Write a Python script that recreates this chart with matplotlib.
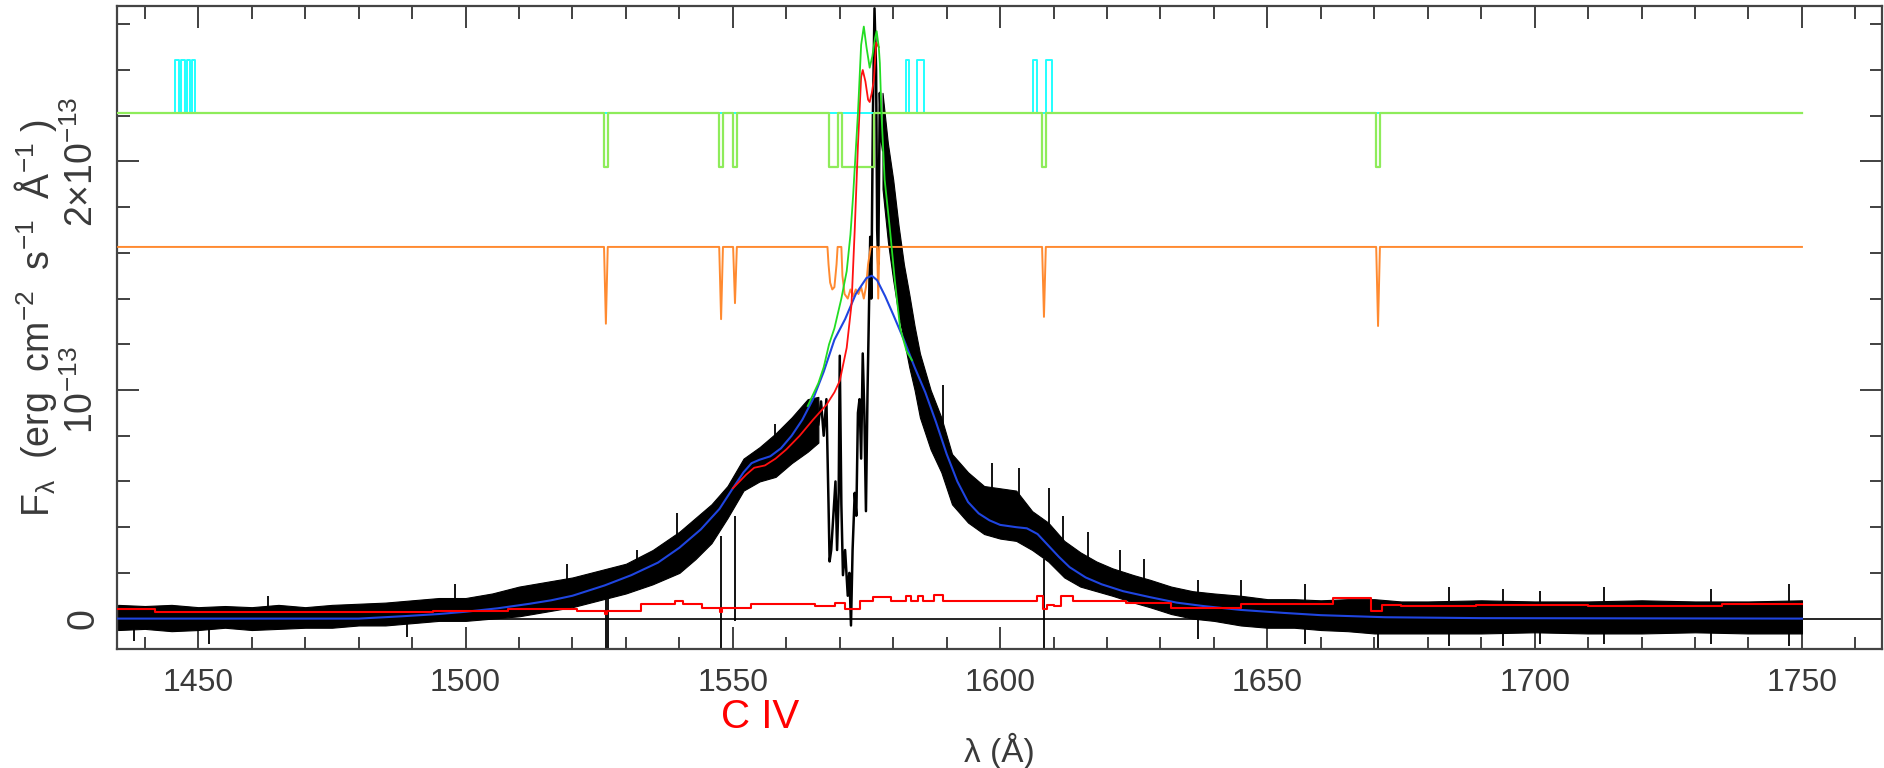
import numpy as np
import matplotlib
matplotlib.use('Agg')
import matplotlib.pyplot as plt
from matplotlib.ticker import MultipleLocator, FixedLocator

# flux in units of 1e-13 erg cm-2 s-1 A-1, wavelength in A

# observed spectrum, noisy wings drawn as a band (upper / lower envelope)
band_l_wl = [1435, 1440, 1445, 1450, 1455, 1460, 1465, 1470, 1475, 1480, 1485, 1490, 1495, 1500,
             1505, 1510, 1515, 1520, 1525, 1530, 1535, 1540, 1543, 1546, 1549, 1552, 1555, 1558,
             1561, 1564, 1566]
band_l_hi = [0.06, 0.055, 0.06, 0.05, 0.055, 0.05, 0.06, 0.05, 0.06, 0.065, 0.07, 0.08, 0.09, 0.09,
             0.11, 0.14, 0.16, 0.18, 0.21, 0.24, 0.30, 0.38, 0.44, 0.50, 0.58, 0.70, 0.75, 0.81,
             0.88, 0.96, 0.97]
band_l_lo = [-0.05, -0.045, -0.055, -0.05, -0.04, -0.05, -0.045, -0.04, -0.04, -0.03, -0.03, -0.02,
             -0.01, -0.01, 0.00, 0.01, 0.03, 0.05, 0.08, 0.11, 0.15, 0.20, 0.26, 0.33, 0.44, 0.56,
             0.60, 0.62, 0.68, 0.73, 0.77]

band_r_wl = [1578, 1579, 1580, 1581, 1582, 1583, 1584, 1585, 1587, 1589, 1591, 1594, 1597, 1600,
             1603, 1606, 1609, 1612, 1615, 1618, 1621, 1625, 1628, 1632, 1636, 1640, 1645, 1650,
             1655, 1660, 1665, 1670, 1675, 1680, 1690, 1700, 1710, 1720, 1730, 1740, 1750]
band_r_hi = [2.30, 2.08, 1.92, 1.72, 1.55, 1.42, 1.28, 1.16, 1.00, 0.88, 0.72, 0.64, 0.58, 0.57,
             0.56, 0.47, 0.42, 0.34, 0.29, 0.25, 0.22, 0.19, 0.17, 0.14, 0.12, 0.11, 0.10, 0.085,
             0.085, 0.08, 0.085, 0.085, 0.075, 0.075, 0.08, 0.075, 0.075, 0.08, 0.075, 0.075, 0.08]
band_r_lo = [1.88, 1.65, 1.48, 1.33, 1.22, 1.10, 1.00, 0.88, 0.74, 0.64, 0.50, 0.42, 0.37, 0.35,
             0.34, 0.30, 0.25, 0.18, 0.14, 0.12, 0.10, 0.07, 0.05, 0.02, 0.00, -0.01, -0.03, -0.04,
             -0.04, -0.05, -0.055, -0.065, -0.065, -0.065, -0.065, -0.06, -0.065, -0.065, -0.06,
             -0.065, -0.065]

# C IV core of the observed spectrum
core_wl = [1566.0, 1566.5, 1567.0, 1567.5, 1567.9, 1568.1, 1568.4, 1568.8, 1569.2, 1569.5, 1569.8,
           1570.0, 1570.3, 1570.6, 1571.0, 1571.5, 1571.8, 1572.1, 1572.4, 1572.8, 1573.1, 1573.4,
           1573.7, 1574.0, 1574.3, 1574.6, 1574.9, 1575.2, 1575.4, 1575.7, 1575.9, 1576.2, 1576.5,
           1576.8, 1577.0, 1577.2, 1577.5, 1577.8, 1578.1]
core_flux = [0.85, 0.95, 0.80, 0.96, 0.50, 0.25, 0.30, 0.45, 0.60, 0.30, 0.55,
             1.15, 0.50, 0.19, 0.30, 0.10, 0.20, -0.03, 0.30, 0.55, 0.45, 0.90,
             0.96, 0.70, 1.16, 0.90, 0.47, 1.00, 1.26, 1.67, 1.40, 2.20, 2.67,
             2.40, 1.70, 1.55, 2.30, 2.10, 2.05]

# narrow absorption lines and the strongest noise spikes
abs_wl = [1526.3, 1526.6, 1547.8, 1550.4, 1608.2, 1670.6]
abs_top = [0.10, 0.10, 0.36, 0.45, 0.26, -0.04]
abs_bottom = [-0.13, -0.13, -0.13, -0.01, -0.13, -0.13]
spike_wl = [1438, 1452, 1463, 1489, 1498, 1519, 1532, 1539.5, 1557.9, 1589.3, 1598.5, 1603.5,
            1609.1, 1611.8, 1616.5, 1622.5, 1627, 1637, 1645, 1657, 1684, 1694, 1701, 1713,
            1733, 1747.5]
spike_lo = [-0.10, -0.11, 0.05, -0.08, 0.08, 0.15, 0.20, 0.30, 0.75, 0.85, 0.55, 0.50,
            0.40, 0.30, 0.25, 0.20, 0.15, -0.09, 0.08, -0.11, -0.12, -0.12, -0.11, -0.11,
            -0.11, -0.12]
spike_hi = [-0.04, -0.04, 0.10, -0.02, 0.15, 0.24, 0.30, 0.46, 0.85, 1.02, 0.68, 0.66,
            0.57, 0.45, 0.38, 0.30, 0.26, 0.17, 0.17, 0.15, 0.14, 0.13, 0.12, 0.14,
            0.13, 0.15]

# smooth continuum + broad line model (blue)
blue_wl = [1435, 1480, 1488, 1495, 1500, 1506, 1512, 1516, 1520, 1526, 1531, 1536, 1540, 1544,
           1547.5, 1550, 1552, 1553.5, 1555, 1557, 1559, 1561, 1563, 1565, 1567, 1569, 1571, 1573,
           1575, 1576, 1577, 1578.5, 1580, 1582, 1584, 1586, 1588, 1590, 1592, 1594, 1596, 1598,
           1600, 1603, 1605, 1607, 1609, 1611, 1613, 1616, 1619, 1623, 1628, 1633, 1638, 1645,
           1653, 1660, 1672, 1690, 1750]
blue_flux = [0.0, 0.0, 0.01, 0.02, 0.03, 0.045, 0.065, 0.08, 0.10, 0.145, 0.19, 0.245, 0.31, 0.39,
             0.48, 0.57, 0.64, 0.68, 0.695, 0.71, 0.745, 0.80, 0.87, 0.96, 1.08, 1.22, 1.31, 1.42,
             1.49, 1.50, 1.48, 1.41, 1.33, 1.22, 1.10, 0.99, 0.86, 0.72, 0.60, 0.51, 0.46, 0.43,
             0.41, 0.40, 0.395, 0.37, 0.32, 0.27, 0.225, 0.18, 0.15, 0.12, 0.094, 0.07, 0.055, 0.038,
             0.025, 0.015, 0.006, 0.002, 0.0]

# full model with narrow component (green) and absorbed model (red)
green_wl = [1564, 1566, 1567, 1568, 1569, 1570.3, 1571.3, 1572.0, 1572.5, 1573.0, 1573.4, 1574.0,
            1574.5, 1575.0, 1575.6, 1576.1, 1576.6, 1576.9, 1577.3, 1577.5, 1577.8, 1578.4, 1579.4,
            1580.3, 1581.3, 1582.5, 1583.5]
green_flux = [0.93, 1.03, 1.10, 1.20, 1.27, 1.40, 1.52, 1.68, 1.85, 2.05, 2.21, 2.51,
              2.59, 2.50, 2.41, 2.46, 2.54, 2.57, 2.50, 2.43, 2.21, 1.92, 1.70,
              1.48, 1.27, 1.17, 1.13]
red_wl = [1550, 1552.5, 1554, 1556, 1558, 1560, 1562.5, 1565, 1567.5, 1569, 1570, 1571.3, 1572.2,
          1572.8, 1573.4, 1574.0, 1574.3, 1574.8, 1575.3, 1575.6, 1576.0, 1576.4, 1576.8, 1577.3]
red_flux = [0.57, 0.63, 0.66, 0.67, 0.70, 0.74, 0.80, 0.87, 0.935, 0.99, 1.04, 1.185, 1.375,
            1.70, 2.07, 2.37, 2.40, 2.35, 2.27, 2.26, 2.30, 2.36, 2.52, 2.50]

# error spectrum (red, near zero)
err_wl = [1435, 1441.5, 1442.2, 1460, 1487.7, 1500, 1515.8, 1525.8, 1526.3, 1526.8, 1538.8, 1539.4,
          1540.5, 1541.0, 1547.5, 1547.8, 1548.1, 1558.7, 1562.5, 1568.1, 1570, 1572.1, 1575.6,
          1576.9, 1582.4, 1582.5, 1583.2, 1583.3, 1584.6, 1584.7, 1585.5, 1585.6, 1587.5, 1587.6,
          1589.3, 1589.4, 1596.2, 1606, 1607.8, 1608.4, 1609.0, 1611.0, 1611.8, 1615.4, 1631.7,
          1632.3, 1657.9, 1666.7, 1667.9, 1670.7, 1672.0, 1677.9, 1700, 1720, 1750]
err_flux = [0.043, 0.043, 0.028, 0.030, 0.030, 0.033, 0.040, 0.033, 0.018, 0.033, 0.062, 0.075,
            0.075, 0.062, 0.047, 0.030, 0.047, 0.062, 0.062, 0.057, 0.070, 0.040, 0.076,
            0.094, 0.076, 0.100, 0.100, 0.076, 0.076, 0.100, 0.100, 0.076, 0.076, 0.105,
            0.105, 0.076, 0.076, 0.076, 0.100, 0.040, 0.060, 0.054, 0.098, 0.076, 0.070,
            0.047, 0.062, 0.090, 0.090, 0.032, 0.060, 0.054, 0.058, 0.056, 0.062]

# absorption transmission (orange, offset) and masks (green, cyan)
orange_base = 1.626
orange_wl = [1567.7, 1567.9, 1568.2, 1568.6, 1569.0, 1569.4, 1569.6, 1570.3, 1570.5, 1570.9, 1571.5,
             1572.0, 1572.5, 1573.0, 1573.5, 1574.0, 1574.5, 1574.9, 1575.3, 1575.8, 1577.0, 1577.2,
             1577.4]
orange_flux = [1.626, 1.55, 1.47, 1.44, 1.45, 1.55, 1.626, 1.626, 1.50, 1.42, 1.40,
               1.44, 1.41, 1.44, 1.42, 1.45, 1.40, 1.45, 1.55, 1.626, 1.626, 1.40, 1.626]
orange_dip_wl = [1526.25, 1547.8, 1550.4, 1608.2, 1670.7]
orange_dip_min = [1.29, 1.31, 1.38, 1.32, 1.28]

mask_base = 2.21
green_mask_level = 1.977
green_mask = [(1525.9, 1526.7), (1547.4, 1548.2), (1550.05, 1550.8), (1567.9, 1569.6),
              (1570.4, 1576.4), (1607.9, 1608.5), (1670.4, 1671.0)]
cyan_level = 2.445
cyan_mask = [(1445.6, 1446.45), (1446.7, 1447.5), (1447.8, 1448.45), (1448.75, 1449.4),
             (1582.3, 1583.0), (1584.5, 1585.8), (1606.2, 1606.9), (1608.5, 1609.7)]

x_start, x_end = 1435, 1750


def step_line(intervals, base, level):
    xs = [x_start]
    ys = [base]
    for a, b in intervals:
        xs += [a, a, b, b]
        ys += [base, level, level, base]
    xs.append(x_end)
    ys.append(base)
    return xs, ys


plt.rcParams['font.family'] = ['Liberation Sans', 'DejaVu Sans']
plt.rcParams['mathtext.fontset'] = 'custom'
plt.rcParams['mathtext.rm'] = 'Liberation Sans'
plt.rcParams['mathtext.it'] = 'Liberation Sans'

fig = plt.figure(figsize=(18.84, 7.68), dpi=100)
ax_left, ax_right = 116.5 / 1884, 1881.6 / 1884
ax = fig.add_axes([ax_left, 1 - 649 / 768, ax_right - ax_left, 643.0 / 768])

ax.axhline(0, color='black', lw=1.2, zorder=1)

# observed spectrum
ax.fill_between(band_l_wl, band_l_lo, band_l_hi, color='black', lw=0.8, zorder=2)
ax.fill_between(band_r_wl, band_r_lo, band_r_hi, color='black', lw=0.8, zorder=2)
ax.plot(core_wl, core_flux, color='black', lw=1.8, zorder=2)
ax.vlines(abs_wl, abs_bottom, abs_top, color='black', lw=1.3, zorder=2)
ax.vlines(spike_wl, spike_lo, spike_hi, color='black', lw=1.3, zorder=2)

# models
ax.plot(blue_wl, blue_flux, color='#1f45e0', lw=1.5, zorder=4)
ax.plot(err_wl, err_flux, color='#ff0000', lw=1.5, zorder=4, drawstyle='steps-mid')
ax.plot(red_wl, red_flux, color='#ff1010', lw=1.3, zorder=4)
ax.plot(green_wl, green_flux, color='#22dd22', lw=1.3, zorder=5)

# absorption profile
ow = list(orange_wl)
of = list(orange_flux)
for w, m in zip(orange_dip_wl, orange_dip_min):
    ow += [w - 0.35, w, w + 0.35]
    of += [orange_base, m, orange_base]
ow += [x_start, x_end]
of += [orange_base, orange_base]
order = np.argsort(ow)
ax.plot(np.array(ow)[order], np.array(of)[order], color='#ff8a30', lw=1.4, zorder=3)

# masks
cx, cy = step_line(cyan_mask, mask_base, cyan_level)
ax.plot(cx, cy, color='#22ffff', lw=1.4, zorder=3)
gx, gy = step_line(green_mask, mask_base, green_mask_level)
ax.plot(gx, gy, color='#8eec5a', lw=1.6, zorder=3)

ax.set_xlim(1434.7, 1764.9)
ax.set_ylim(-0.133, 2.68)

tick_col = '#333333'
ax.xaxis.set_major_locator(MultipleLocator(50))
ax.xaxis.set_minor_locator(MultipleLocator(10))
ax.yaxis.set_major_locator(FixedLocator([0, 1, 2]))
ax.yaxis.set_minor_locator(MultipleLocator(0.2))
ax.set_yticklabels(['0', r'$10^{-13}$', r'$2{\times}10^{-13}$'], rotation=90, va='center')
ax.tick_params(which='both', direction='in', top=True, right=True, colors=tick_col,
               width=1.3, labelsize=23, labelcolor='#3a3a3a')
ax.tick_params(axis='y', labelsize=27)
ax.tick_params(which='major', length=16)
ax.tick_params(which='minor', length=9)
ax.tick_params(axis='x', pad=14)
ax.tick_params(axis='y', pad=11)
for s in ax.spines.values():
    s.set_color('#444444')
    s.set_linewidth(1.6)

fig.text(36 / 1884, 1 - 318 / 768,
         r'F$_{\mathrm{\lambda}}$  (erg  cm$^{-2}$  s$^{-1}$  Å$^{-1}$ )',
         rotation=90, ha='center', va='center', fontsize=27, color='#3a3a3a')
fig.text((ax_left + ax_right) / 2, 1 - 751 / 768, 'λ (Å)', ha='center', va='center',
         fontsize=24, color='#3a3a3a')
fig.text(760 / 1884, 1 - 717 / 768, 'C IV', ha='center', va='center',
         fontsize=29, color='#ff0000')

fig.savefig('out.png', dpi=100)
